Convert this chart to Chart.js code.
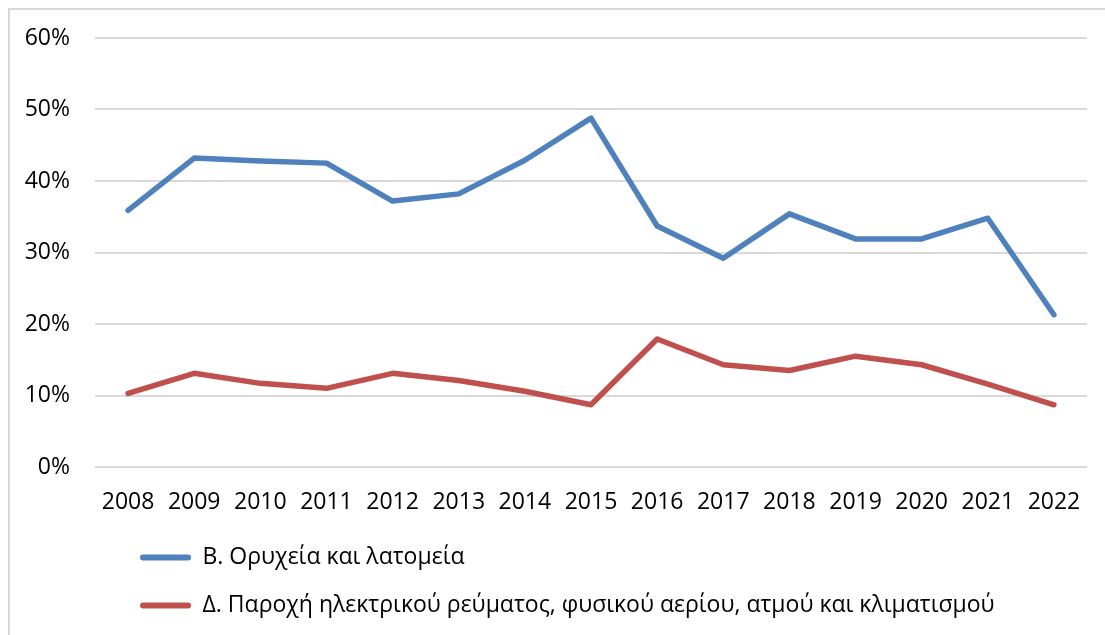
<!DOCTYPE html>
<html>
<head>
<meta charset="utf-8">
<script src="https://cdn.jsdelivr.net/npm/chart.js@4"></script>
<style>
  html, body { margin: 0; padding: 0; background: #fff; overflow: hidden; }
  #frame {
    position: absolute; left: 8px; top: 8px;
    width: 1110px; height: 640px;
    border: 2px solid #d9d9d9;
  }
</style>
</head>
<body>
<div id="frame"><canvas id="lineChart" width="1110" height="640"></canvas></div>
<script>
const years = ['2008', '2009', '2010', '2011', '2012', '2013', '2014', '2015',
  '2016', '2017', '2018', '2019', '2020', '2021', '2022'];
// shares in percent
const mining = [35.9, 43.2, 42.8, 42.5, 37.2, 38.2, 42.9, 48.8, 33.7, 29.2, 35.4, 31.9, 31.9, 34.8, 21.3];
const energy = [10.3, 13.1, 11.7, 11.0, 13.1, 12.1, 10.6, 8.7, 17.9, 14.3, 13.5, 15.5, 14.3, 11.6, 8.7];
const seriesNames = [
  'Β. Ορυχεία και λατομεία',
  'Δ. Παροχή ηλεκτρικού ρεύματος, φυσικού αερίου, ατμού και κλιματισμού'
];

Chart.defaults.font.family = '"Open Sans", "Noto Sans", sans-serif';
Chart.defaults.font.size = 23;
Chart.defaults.color = '#000';

// legend sits indented from the left and closer to the axis than the layout puts it
const legendShift = {
  id: 'legendShift',
  afterLayout(chart) {
    const lg = chart.legend;
    lg.left += 95; lg.right += 95;
    lg.top -= 17; lg.bottom -= 17;
  }
};

const ctx = document.getElementById('lineChart').getContext('2d');
new Chart(ctx, {
  type: 'line',
  data: {
    labels: years,
    datasets: [{
      label: seriesNames[0],
      data: mining,
      borderColor: '#4f81bd',
      backgroundColor: '#4f81bd'
    }, {
      label: seriesNames[1],
      data: energy,
      borderColor: '#c0504d',
      backgroundColor: '#c0504d'
    }]
  },
  options: {
    responsive: false,
    animation: false,
    layout: { padding: { left: 10, right: 33, top: 28, bottom: 6 } },
    elements: {
      line: { borderWidth: 5.5, borderCapStyle: 'round', borderJoinStyle: 'round', tension: 0 },
      point: { radius: 0, hoverRadius: 0 }
    },
    scales: {
      x: {
        offset: true,
        grid: { display: false, drawTicks: false },
        border: { display: false },
        ticks: { padding: 21.7, maxRotation: 0, autoSkip: false }
      },
      y: {
        min: 0,
        max: 60,
        afterFit(scale) { scale.width = 75; },
        grid: { color: '#d9d9d9', lineWidth: 2, drawTicks: true, tickLength: 15, tickColor: 'rgba(0,0,0,0)' },
        border: { display: false },
        ticks: { stepSize: 10, padding: 10, callback: v => v + '%' }
      }
    },
    plugins: {
      tooltip: { enabled: false },
      legend: {
        position: 'bottom',
        align: 'start',
        labels: {
          boxWidth: 51,
          boxHeight: 6,
          padding: 25,
          useBorderRadius: true,
          borderRadius: 3,
          generateLabels: chart => Chart.defaults.plugins.legend.labels.generateLabels(chart)
            .map(item => ({ ...item, lineWidth: 0 }))
        }
      }
    }
  },
  plugins: [legendShift]
});
</script>
</body>
</html>
